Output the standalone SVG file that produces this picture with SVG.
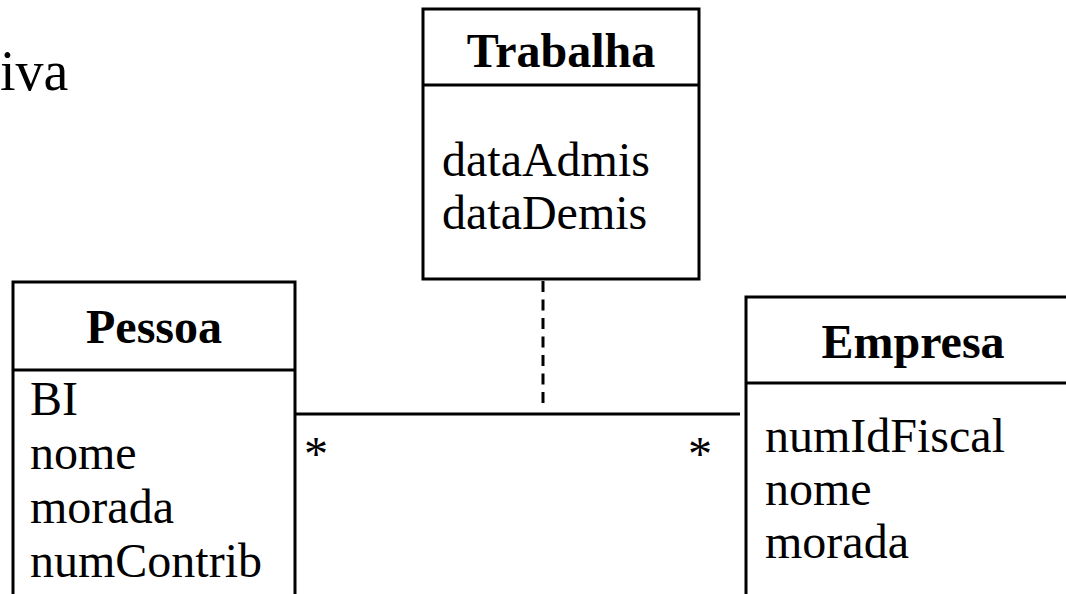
<svg xmlns="http://www.w3.org/2000/svg" width="1066" height="594" viewBox="0 0 1066 594">
  <style>
    .box { fill: #ffffff; stroke: #000000; stroke-width: 3; }
    .sep { stroke: #000000; stroke-width: 3; }
    .title { font-family: "Liberation Serif", "Times New Roman", serif; font-size: 48px; font-weight: bold; fill: #000000; text-anchor: middle; }
    .attr { font-family: "Liberation Serif", "Times New Roman", serif; font-size: 48px; fill: #000000; }
    .assoc { stroke: #000000; stroke-width: 3; fill: none; }
    .dashed { stroke: #000000; stroke-width: 3; fill: none; stroke-dasharray: 11 7.5; }
  </style>
  <rect width="1066" height="594" fill="#ffffff"/>

  <text x="0" y="90" class="attr" style="font-size:56px">iva</text>

  <g id="connectors">
    <line class="assoc" x1="295" y1="414" x2="740" y2="414"/>
    <line class="dashed" x1="543" y1="281" x2="543" y2="403"/>
    <text x="304" y="470" class="attr">*</text>
    <text x="688" y="470" class="attr">*</text>
  </g>

  <g id="trabalha">
    <rect class="box" x="423" y="9" width="276" height="270"/>
    <line class="sep" x1="423" y1="85" x2="699" y2="85"/>
    <text x="561" y="67" class="title">Trabalha</text>
    <text x="442" y="176" class="attr">dataAdmis</text>
    <text x="442" y="229" class="attr">dataDemis</text>
  </g>

  <g id="pessoa">
    <rect class="box" x="13" y="282" width="282" height="340"/>
    <line class="sep" x1="13" y1="370" x2="295" y2="370"/>
    <text x="154" y="343" class="title">Pessoa</text>
    <text x="30" y="415" class="attr">BI</text>
    <text x="30" y="469" class="attr">nome</text>
    <text x="30" y="523" class="attr">morada</text>
    <text x="30" y="577" class="attr">numContrib</text>
  </g>

  <g id="empresa">
    <rect class="box" x="746" y="297" width="340" height="330"/>
    <line class="sep" x1="746" y1="383" x2="1086" y2="383"/>
    <text x="913" y="358" class="title">Empresa</text>
    <text x="765" y="452" class="attr">numIdFiscal</text>
    <text x="765" y="505" class="attr">nome</text>
    <text x="765" y="558" class="attr">morada</text>
  </g>
</svg>
